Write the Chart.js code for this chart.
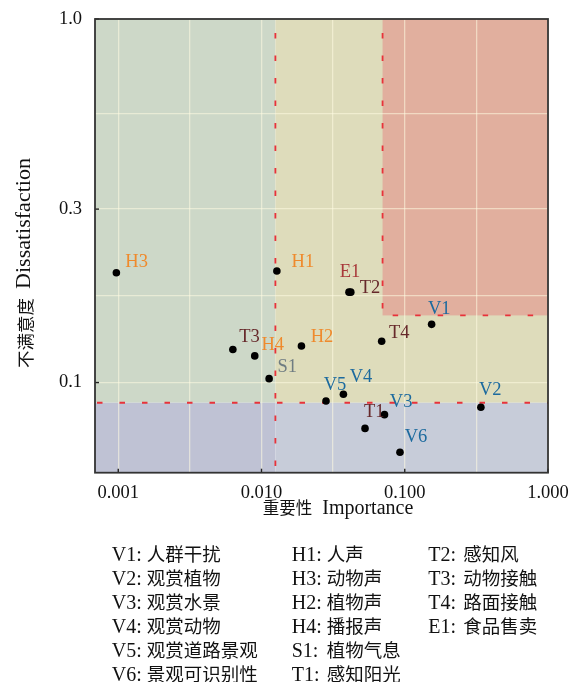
<!DOCTYPE html>
<html>
<head>
<meta charset="utf-8">
<script src="https://cdn.jsdelivr.net/npm/chart.js@4.4.1/dist/chart.umd.min.js"></script>
<style>
  html, body { margin: 0; padding: 0; background: #fff; }
  #wrap { position: relative; width: 578px; height: 682px; }
  #chartBox { position: absolute; left: 0; top: 0; width: 578px; height: 682px; }
  .col { position: absolute; top: 541px; }
  .row { height: 24px; line-height: 24px; white-space: nowrap; color: #111; }
  .code { display: inline-block; width: 35px; font-family: "Liberation Serif", serif; font-size: 20px; }
  .name { font-family: "Noto Sans CJK SC", sans-serif; font-size: 18.5px; }
</style>
</head>
<body>
<div id="wrap">
  <div id="chartBox"><canvas id="c"></canvas></div>
  <div id="legend"></div>
</div>
<script>
// ---------------- data ----------------
const categories = ['V1','V2','V3','V4','V5','V6','H1','H2','H3','H4','S1','T1','T2','T3','T4','E1'];
const importance = [0.154, 0.34, 0.0722, 0.0373, 0.0282, 0.0926, 0.0128, 0.019, 0.00097, 0.00897, 0.0113, 0.0528, 0.042, 0.00631, 0.069, 0.0408];
const dissatisfaction = [0.1446, 0.0855, 0.0816, 0.0929, 0.0890, 0.0643, 0.2027, 0.126, 0.2004, 0.1184, 0.1025, 0.0748, 0.1773, 0.1233, 0.1299, 0.1773];

const xTickValues = [0.001, 0.003162, 0.01, 0.03162, 0.1, 0.3162, 1.0];
const xTickLabels = ['0.001', '', '0.010', '', '0.100', '', '1.000'];
const yTickValues = [0.1, 0.1732, 0.3, 0.5477, 1.0];
const yTickLabels = ['0.1', '', '0.3', '', '1.0'];

const importanceCuts = [0.0125, 0.07];
const dissatisfactionCuts = [0.088, 0.153];

const legendColumns = [
  [['V1:', '人群干扰'], ['V2:', '观赏植物'], ['V3:', '观赏水景'], ['V4:', '观赏动物'], ['V5:', '观赏道路景观'], ['V6:', '景观可识别性']],
  [['H1:', '人声'], ['H3:', '动物声'], ['H2:', '植物声'], ['H4:', '播报声'], ['S1:', '植物气息'], ['T1:', '感知阳光']],
  [['T2:', '感知风'], ['T3:', '动物接触'], ['T4:', '路面接触'], ['E1:', '食品售卖']]
];
const xTitleCn = '重要性', xTitleEn = 'Importance';
const yTitleCn = '不满意度', yTitleEn = 'Dissatisfaction';

// ---------------- style ----------------
const labelOffsets = {
  V1: [-3.7, -17], V2: [-2, -18.3], V3: [5.3, -14.6], V4: [6.3, -18.3], V5: [-2.3, -17], V6: [4.7, -16.3],
  H1: [14.7, -10.7], H2: [9.3, -10.7], H3: [9, -12.7], H4: [6.7, -12], S1: [8.4, -13],
  T1: [-1, -17.5], T2: [9, -5.3], T3: [6.3, -14.3], T4: [7.3, -9.3], E1: [-9.3, -21.7]
};
function labelColor(c) {
  if (c === 'S1') return '#6f7c82';
  if (c === 'E1') return '#a8383a';
  if (c[0] === 'V') return '#1c6a9e';
  if (c[0] === 'H') return '#ef8a2c';
  return '#66282a';
}
const SERIF = '"Liberation Serif", serif';
const CJK = '"Noto Sans CJK SC", sans-serif';

// legend (HTML text)
const colLeft = [111.7, 291.7, 428.3];
const legendEl = document.getElementById('legend');
legendColumns.forEach((col, i) => {
  const d = document.createElement('div');
  d.className = 'col';
  d.style.left = colLeft[i] + 'px';
  col.forEach(([code, name]) => {
    const r = document.createElement('div');
    r.className = 'row';
    const a = document.createElement('span'); a.className = 'code'; a.textContent = code;
    const b = document.createElement('span'); b.className = 'name'; b.textContent = name;
    r.appendChild(a); r.appendChild(b);
    d.appendChild(r);
  });
  legendEl.appendChild(d);
});

const quadPlugin = {
  id: 'quad',
  beforeDraw(chart) {
    const { ctx, chartArea: a, scales: { x, y } } = chart;
    const x1 = x.getPixelForValue(importanceCuts[0]);
    const x2 = x.getPixelForValue(importanceCuts[1]);
    const y1 = y.getPixelForValue(dissatisfactionCuts[0]);
    const y2 = y.getPixelForValue(dissatisfactionCuts[1]);
    ctx.save();
    ctx.fillStyle = '#cdd8c8'; ctx.fillRect(a.left, a.top, x1 - a.left, y1 - a.top);
    ctx.fillStyle = '#dedcbb'; ctx.fillRect(x1, a.top, a.right - x1, y1 - a.top);
    ctx.fillStyle = '#e1af9e'; ctx.fillRect(x2, a.top, a.right - x2, y2 - a.top);
    ctx.fillStyle = '#bfc2d4'; ctx.fillRect(a.left, y1, x1 - a.left, a.bottom - y1);
    ctx.fillStyle = '#c7ccd9'; ctx.fillRect(x1, y1, a.right - x1, a.bottom - y1);
    ctx.restore();
  },
  beforeDatasetsDraw(chart) {
    const { ctx, chartArea: a, scales: { x, y } } = chart;
    const x1 = x.getPixelForValue(importanceCuts[0]);
    const x2 = x.getPixelForValue(importanceCuts[1]);
    const y1 = y.getPixelForValue(dissatisfactionCuts[0]);
    const y2 = y.getPixelForValue(dissatisfactionCuts[1]);
    ctx.save();
    ctx.strokeStyle = '#e8323a';
    ctx.lineWidth = 1.8;
    ctx.setLineDash([5.5, 17]);
    ctx.beginPath(); ctx.moveTo(x1, a.top + 14); ctx.lineTo(x1, a.bottom); ctx.stroke();
    ctx.beginPath(); ctx.moveTo(a.left + 2, y1); ctx.lineTo(a.right, y1); ctx.stroke();
    ctx.beginPath(); ctx.moveTo(x2, a.top + 14); ctx.lineTo(x2, y2); ctx.lineTo(a.right, y2); ctx.stroke();
    ctx.setLineDash([]);
    // inward ticks
    ctx.strokeStyle = '#222';
    ctx.lineWidth = 1.4;
    xTickValues.forEach((v, i) => {
      if (!xTickLabels[i]) return;
      const px = x.getPixelForValue(v);
      ctx.beginPath(); ctx.moveTo(px, a.bottom); ctx.lineTo(px, a.bottom - 4); ctx.stroke();
    });
    yTickValues.forEach((v, i) => {
      if (!yTickLabels[i]) return;
      const py = y.getPixelForValue(v);
      ctx.beginPath(); ctx.moveTo(a.left, py); ctx.lineTo(a.left + 4, py); ctx.stroke();
    });
    // frame
    ctx.strokeStyle = '#333';
    ctx.lineWidth = 1.8;
    ctx.strokeRect(a.left, a.top, a.right - a.left, a.bottom - a.top);
    ctx.restore();
  },
  afterDatasetsDraw(chart) {
    const { ctx, scales: { x, y } } = chart;
    ctx.save();
    ctx.font = '18.5px ' + SERIF;
    ctx.textAlign = 'left';
    ctx.textBaseline = 'alphabetic';
    categories.forEach((c, i) => {
      const px = x.getPixelForValue(importance[i]);
      const py = y.getPixelForValue(dissatisfaction[i]);
      const off = labelOffsets[c] || [6, -12];
      ctx.fillStyle = labelColor(c);
      ctx.fillText(c, px + off[0], py + off[1] + 6.5);
    });
    // x title
    ctx.fillStyle = '#111';
    ctx.font = '16.5px ' + CJK;
    const wc = ctx.measureText(xTitleCn).width;
    ctx.font = '20px ' + SERIF;
    const we = ctx.measureText(xTitleEn).width;
    const gap = 10;
    let sx = 338 - (wc + gap + we) / 2;
    ctx.font = '16.5px ' + CJK; ctx.fillText(xTitleCn, sx, 514);
    ctx.font = '20px ' + SERIF; ctx.fillText(xTitleEn, sx + wc + gap, 514);
    // y title
    ctx.translate(24, 263);
    ctx.rotate(-Math.PI / 2);
    ctx.textBaseline = 'middle';
    ctx.font = '17.5px ' + CJK;
    const yc = ctx.measureText(yTitleCn).width;
    ctx.font = '22px ' + SERIF;
    const ye = ctx.measureText(yTitleEn).width;
    const g2 = 9;
    const s2 = -(yc + g2 + ye) / 2;
    ctx.font = '17.5px ' + CJK; ctx.fillText(yTitleCn, s2, 1);
    ctx.font = '22px ' + SERIF; ctx.fillText(yTitleEn, s2 + yc + g2, 0);
    ctx.restore();
  }
};

const points = categories.map((c, i) => ({ x: importance[i], y: dissatisfaction[i] }));

new Chart(document.getElementById('c'), {
  type: 'scatter',
  data: { datasets: [{ data: points, backgroundColor: '#000', borderWidth: 0, pointRadius: 3.8, pointHoverRadius: 3.8 }] },
  options: {
    responsive: true,
    maintainAspectRatio: false,
    animation: false,
    events: [],
    layout: { padding: { top: 19, right: 30, bottom: 0, left: 0 } },
    plugins: { legend: { display: false }, tooltip: { enabled: false } },
    scales: {
      x: {
        type: 'logarithmic',
        min: 0.000688, max: 1.0,
        afterBuildTicks(s) { s.ticks = xTickValues.map(v => ({ value: v })); },
        afterFit(s) { s.height = 682 - 472.7; s.paddingLeft = 0; s.paddingRight = 0; },
        ticks: {
          autoSkip: false, maxRotation: 0, padding: 9,
          color: '#111', font: { family: SERIF, size: 18.5 },
          callback(v, i) { return xTickLabels[i]; }
        },
        grid: { color: 'rgba(255,252,225,0.55)', lineWidth: 1.3, drawTicks: false },
        border: { display: false }
      },
      y: {
        type: 'logarithmic',
        min: 0.0565, max: 1.0,
        afterBuildTicks(s) { s.ticks = yTickValues.map(v => ({ value: v })); },
        afterFit(s) { s.width = 95; s.paddingTop = 0; s.paddingBottom = 0; },
        ticks: {
          autoSkip: false, padding: 13,
          color: '#111', font: { family: SERIF, size: 18.5 },
          callback(v, i) { return yTickLabels[i]; }
        },
        grid: { color: 'rgba(255,252,225,0.55)', lineWidth: 1.3, drawTicks: false },
        border: { display: false }
      }
    }
  },
  plugins: [quadPlugin]
});
</script>
</body>
</html>
